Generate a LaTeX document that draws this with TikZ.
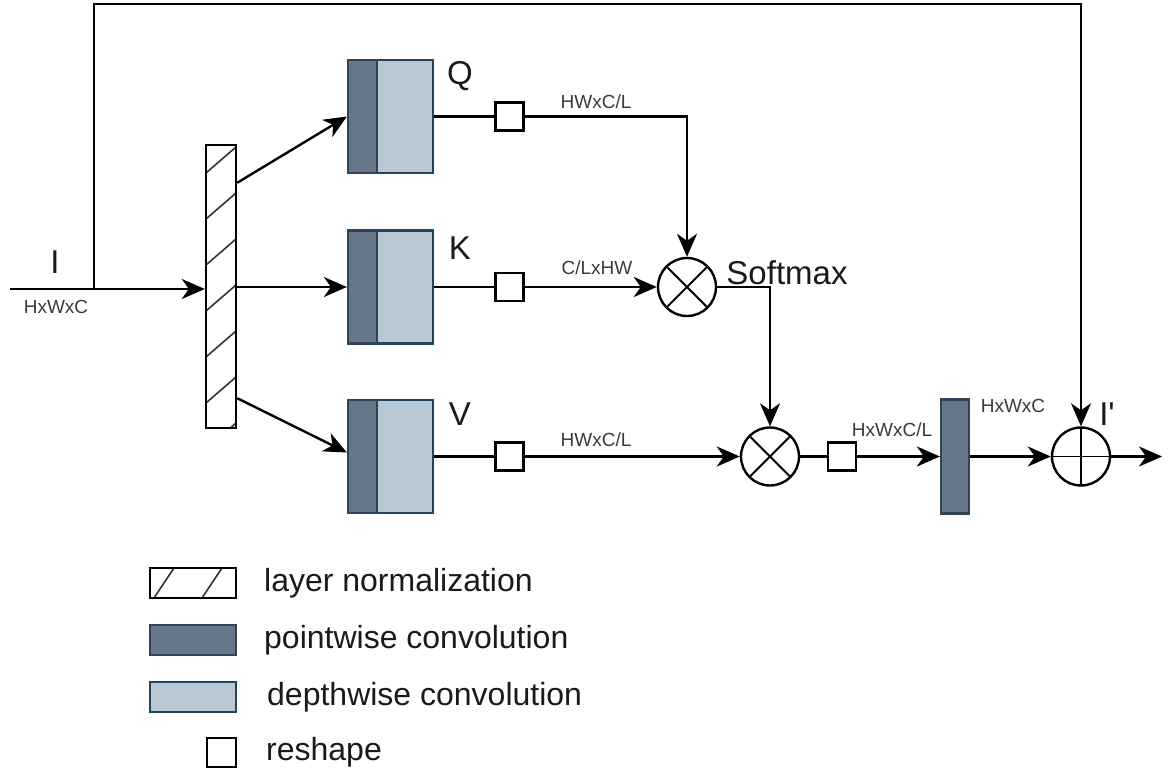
\documentclass[tikz,border=0pt]{standalone}
\usepackage{fontspec}
\setmainfont{Liberation Sans}[Ligatures=TeXOff]
\usetikzlibrary{arrows.meta,calc}
\definecolor{pwfill}{HTML}{647687}
\definecolor{pwline}{HTML}{314354}
\definecolor{dwfill}{HTML}{BAC8D3}
\definecolor{dwline}{HTML}{23445D}
\definecolor{ink}{HTML}{1A1A1A}
\definecolor{dimink}{HTML}{3A3A3A}
\begin{document}
\begin{tikzpicture}[x=1pt,y=-1pt,line width=2.4pt,
  >={Stealth[length=23pt,width=20pt,inset=7pt]},
  pwbox/.style={draw=pwline,fill=pwfill,line width=2.2pt,inner sep=0pt,minimum width=29pt,minimum height=113pt},
  dwbox/.style={draw=dwline,fill=dwfill,line width=2.2pt,inner sep=0pt,minimum width=56pt,minimum height=113pt},
  rsbox/.style={draw,fill=white,line width=2.4pt,inner sep=0pt,minimum size=28pt},
  lnbar/.style={draw,fill=white,line width=2.4pt,inner sep=0pt,minimum width=30pt,minimum height=283pt,
    path picture={\foreach \k in {0,...,6}{\draw[line width=1.6pt,black!80]
      ($(path picture bounding box.north west)+(0,28+46*\k)$) -- ++(30,-26);}}},
  mulop/.style={circle,draw,line width=2.4pt,inner sep=0pt,minimum size=58pt,
    path picture={\draw[line width=1.8pt] (path picture bounding box.north west) -- (path picture bounding box.south east)
      (path picture bounding box.south west) -- (path picture bounding box.north east);}},
  addop/.style={circle,draw,line width=2.4pt,inner sep=0pt,minimum size=58pt,
    path picture={\draw[line width=1.8pt] (path picture bounding box.north) -- (path picture bounding box.south)
      (path picture bounding box.west) -- (path picture bounding box.east);}},
  big/.style={text=ink,inner sep=0pt,font=\fontsize{33}{36}\selectfont},
  small/.style={text=dimink,inner sep=0pt,font=\fontsize{19}{22}\selectfont},
  legtext/.style={text=ink,inner sep=0pt,anchor=west,font=\fontsize{32}{36}\selectfont},
]
\useasboundingbox (0,0) rectangle (1168,774);

% layer normalization bar
\node[lnbar] (bar) at (221,286.5) {};

% Q, K, V branches: pointwise + depthwise convolution
\node[dwbox] (qdw) at (405,116.5) {};
\node[pwbox] (qpw) at (362.5,116.5) {};
\node[dwbox] (kdw) at (405,287) {};
\node[pwbox] (kpw) at (362.5,287) {};
\node[dwbox] (vdw) at (405,456.5) {};
\node[pwbox] (vpw) at (362.5,456.5) {};

\node[big] (lq) at (460,76) {Q};
\node[big] (lk) at (460,248) {K};
\node[big] (lv) at (460,414) {V};

% reshapes
\node[rsbox] (rq) at (509.5,116.5) {};
\node[rsbox] (rk) at (509.5,287) {};
\node[rsbox] (rv) at (509.5,456.5) {};
\node[rsbox] (ro) at (842,456.5) {};

% operators
\node[mulop] (mul1) at (687,287) {};
\node[mulop] (mul2) at (770,456.5) {};
\node[addop] (plus) at (1081,456.5) {};

% output pointwise convolution
\node[pwbox,minimum width=28pt,minimum height=114pt] (opw) at (955,456.5) {};

% input and skip connection
\coordinate (in) at (10,289);
\coordinate (tap) at (94,289);
\coordinate (top) at (94,4);
\coordinate (out) at (1162,456.5);
\draw[->] (in) -- (in -| bar.west);
\draw[->] (tap) -- (top) -| (plus.north);
\node[big] (li) at (55,262) {I};
\node[small] (lin) at (56,307) {HxWxC};

% bar to branches
\draw[->] ($(bar.north east)+(0,39)$) -- (qpw.west);
\draw[->] (bar.east |- kpw.west) -- (kpw.west);
\draw[->] ($(bar.south east)+(0,-31)$) -- ($(vpw.west)+(0,-4)$);

% attention paths
\draw (qdw.east) -- (rq.west);
\draw[->] (rq.east) -| (mul1.north);
\draw (kdw.east) -- (rk.west);
\draw[->] (rk.east) -- (mul1.west);
\draw[->] (mul1.east) -| (mul2.north);
\draw (vdw.east) -- (rv.west);
\draw[->] (rv.east) -- (mul2.west);
\draw (mul2.east) -- (ro.west);
\draw[->] (ro.east) -- (opw.west);
\draw[->] (opw.east) -- (plus.west);
\draw[->] (plus.east) -- (out);

\node[small] (sq) at (596,102) {HWxC/L};
\node[small] (sk) at (597,268) {C/LxHW};
\node[small] (sv) at (596,440) {HWxC/L};
\node[big] (smax) at (787,273) {Softmax};
\node[small] (so) at (892,430) {HxWxC/L};
\node[small] (sc) at (1013,406) {HxWxC};
\node[big] (lout) at (1107,414) {I'};

% legend
\node[draw,line width=2.4pt,inner sep=0pt,minimum width=86pt,minimum height=30pt,
  path picture={\draw[line width=1.6pt,black!80]
    ($(path picture bounding box.south west)+(4,0)$) -- ++(20,-30)
    ($(path picture bounding box.south west)+(52,0)$) -- ++(20,-30);}] (k1) at (193,583) {};
\node[pwbox,minimum width=86pt,minimum height=30pt] (k2) at (193,640) {};
\node[dwbox,minimum width=86pt,minimum height=30pt] (k3) at (193,697) {};
\node[rsbox,minimum size=29pt] (k4) at (221.5,752.5) {};
\node[legtext] (t1) at (263,583) {layer normalization};
\node[legtext] (t2) at (263,640) {pointwise convolution};
\node[legtext] (t3) at (266,697) {depthwise convolution};
\node[legtext] (t4) at (265,752) {reshape};
\end{tikzpicture}
\end{document}
